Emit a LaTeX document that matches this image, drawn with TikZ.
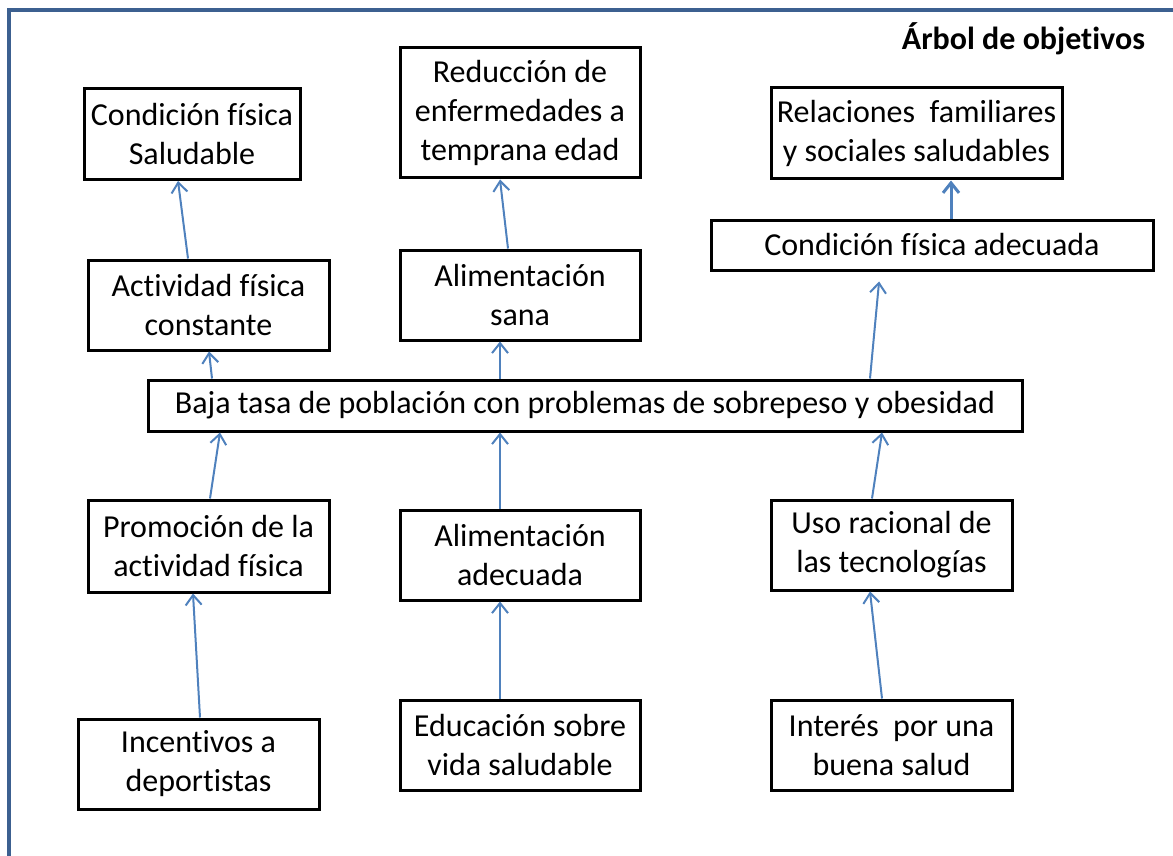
\documentclass[tikz,border=0pt]{standalone}
\usepackage{fontspec}
\setmainfont{Carlito}[Ligatures=NoCommon]
\usepackage{tikz}
\usetikzlibrary{arrows.meta,calc,positioning}
\definecolor{framebl}{RGB}{60, 96, 144}
\definecolor{arrowbl}{RGB}{79, 129, 189}

\begin{document}
\begin{tikzpicture}
  [x=0.5pt, y=-0.5pt,
  objbox/.style={rectangle, draw=black, line width=1.5pt, text centered, align=center, inner sep=0pt, font=\fontsize{16}{19.5}\selectfont},
  arr/.style={draw=arrowbl, line width=1pt, -{Straight Barb[length=5pt,width=8pt]}}]
  \useasboundingbox (0,0) rectangle (1173,856);
  \draw[framebl, line width=2pt] (1173,10) -- (9,10) -- (9,856);
  \node (title) [anchor=east, font=\fontsize{16}{19.5}\selectfont\bfseries] at (1152,39) {Árbol de objetivos};

% Ends
\node (cond-salud) [objbox, minimum width=108pt, minimum height=45.5pt] at (192,134) {Condición física\\Saludable};
\node (reduccion) [objbox, minimum width=120pt, minimum height=65pt] at (520,113) {Reducción de\\enfermedades a\\temprana edad};
\node (relaciones) [objbox, minimum width=145.5pt, minimum height=45.5pt] at (916.5,133.5) {Relaciones\ \ familiares\\y sociales saludables};
\node (cond-adec) [objbox, minimum width=221pt, minimum height=25pt] at (932,245) {Condición física adecuada};
\node (activ) [objbox, minimum width=120.5pt, minimum height=45pt] at (208.5,305) {Actividad física\\constante};
\node (alim-sana) [objbox, minimum width=120pt, minimum height=45pt] at (520,295) {Alimentación\\sana};

% Central objective
\node (baja) [objbox, minimum width=437pt, minimum height=25.5pt] at (585,405.5) {Baja tasa de población con problemas de sobrepeso y obesidad};

% Means
\node (promo) [objbox, minimum width=120.5pt, minimum height=46pt] at (208.5,546) {Promoción de la\\actividad física};
\node (alim-adec) [objbox, minimum width=120pt, minimum height=45pt] at (520,555) {Alimentación\\adecuada};
\node (uso) [objbox, minimum width=120.5pt, minimum height=45pt] at (891.5,545) {Uso racional de\\las tecnologías};
\node (incent) [objbox, minimum width=120.5pt, minimum height=45pt] at (198.5,764) {Incentivos a\\deportistas};
\node (educ) [objbox, minimum width=120pt, minimum height=45pt] at (520,745) {Educación sobre\\vida saludable};
\node (interes) [objbox, minimum width=120.5pt, minimum height=45pt] at (891.5,745) {Interés\ \ por una\\buena salud};

\draw[arr] ($(activ.north)+(-20.5,0)$) -- ($(cond-salud.south)+(-14,0)$);
\draw[arr] ($(baja.north)+(-373,0)$) -- ($(activ.south)+(0.5,0)$);
\draw[arr] ($(baja.north)+(-85,0)$) -- ($(alim-sana.south)+(-20,0)$);
\draw[arr] ($(alim-sana.north)+(-12,0)$) -- ($(reduccion.south)+(-20,0)$);
\draw[arr, shorten >=5pt] ($(baja.north)+(285,0)$) -- ($(cond-adec.south)+(-52,0)$);
\draw[arr, line width=1.5pt] ($(cond-adec.north)+(19,0)$) -- ($(relaciones.south)+(34.5,0)$);
\draw[arr] ($(promo.north)+(1.5,0)$) -- ($(baja.south)+(-365,0)$);
\draw[arr] ($(alim-adec.north)+(-20,0)$) -- ($(baja.south)+(-85,0)$);
\draw[arr] ($(uso.north)+(-19.5,0)$) -- ($(baja.south)+(297,0)$);
\draw[arr] ($(incent.north)+(1.5,0)$) -- ($(promo.south)+(-15.5,0)$);
\draw[arr] ($(educ.north)+(-20,0)$) -- ($(alim-adec.south)+(-20,0)$);
\draw[arr] ($(interes.north)+(-9.5,0)$) -- ($(uso.south)+(-21.5,0)$);
\end{tikzpicture}
\end{document}
